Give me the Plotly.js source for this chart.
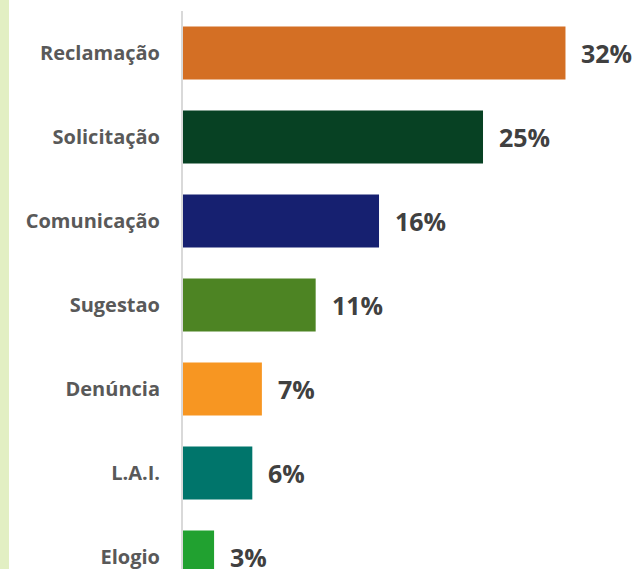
<!DOCTYPE html>
<html>
<head>
<meta charset="utf-8">
<script src="https://cdn.plot.ly/plotly-3.0.1.min.js"></script>
<style>
  html, body { margin: 0; padding: 0; background: #ffffff; }
  #wrap { position: relative; width: 636px; height: 569px; overflow: hidden; }
  #strip { position: absolute; left: 0; top: 0; width: 9px; height: 569px; background: #e2efc3; z-index: 2; }
  #chart { position: absolute; left: 0; top: 0; width: 636px; height: 569px; }
</style>
</head>
<body>
<div id="wrap">
  <div id="chart"></div>
  <div id="strip"></div>
</div>
<script>
const categories = ["Reclamação", "Solicitação", "Comunicação", "Sugestao", "Denúncia", "L.A.I.", "Elogio"];
const values = [32, 25.1, 16.4, 11.1, 6.6, 5.8, 2.6];
const valueLabels = ["32%", "25%", "16%", "11%", "7%", "6%", "3%"];
const barColors = ["#d46f24", "#074123", "#162070", "#4d8423", "#f79622", "#00756b", "#21a130"];

const trace = {
  type: "bar",
  orientation: "h",
  x: values,
  y: categories,
  marker: { color: barColors, line: { width: 0 } },
  hoverinfo: "skip"
};

const annotations = categories.map((c, i) => ({
  x: values[i],
  y: c,
  xref: "x",
  yref: "y",
  text: valueLabels[i],
  showarrow: false,
  xanchor: "left",
  yanchor: "middle",
  xshift: 14,
  font: { family: "Open Sans", size: 25, color: "#404040", weight: 700 }
}));

const layout = {
  width: 636,
  height: 569,
  margin: { l: 183, r: 0, t: 11, b: 0, pad: 0 },
  paper_bgcolor: "#ffffff",
  plot_bgcolor: "#ffffff",
  showlegend: false,
  bargap: 0.37,
  xaxis: {
    range: [0, 37.9],
    visible: false,
    showgrid: false,
    zeroline: false
  },
  yaxis: {
    type: "category",
    range: [6.143, -0.5],
    showgrid: false,
    zeroline: false,
    showline: true,
    linecolor: "#d9d9d9",
    linewidth: 2,
    ticks: "",
    ticklabelstandoff: 17,
    tickfont: { family: "Open Sans", size: 20, color: "#595959", weight: 700 }
  },
  annotations: annotations
};

Plotly.newPlot("chart", [trace], layout, { displayModeBar: false, staticPlot: true });
</script>
</body>
</html>
